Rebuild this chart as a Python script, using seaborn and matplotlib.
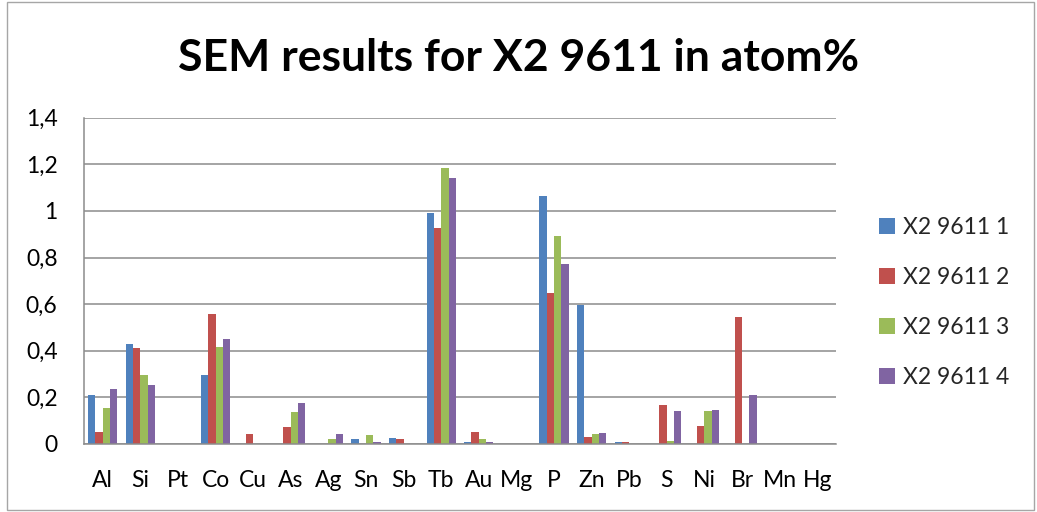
import matplotlib
matplotlib.use("Agg")
import matplotlib.pyplot as plt
from matplotlib.patches import Rectangle
import seaborn as sns
import pandas as pd

elements = ["Al", "Si", "Pt", "Co", "Cu", "As", "Ag", "Sn", "Sb", "Tb",
            "Au", "Mg", "P", "Zn", "Pb", "S", "Ni", "Br", "Mn", "Hg"]
series_names = ["X2 9611 1", "X2 9611 2", "X2 9611 3", "X2 9611 4"]
sample1 = [0.209, 0.428, 0, 0.296, 0, 0, 0, 0.023, 0.027, 0.991,
           0.009, 0, 1.063, 0.598, 0.009, 0, 0, 0, 0, 0]
sample2 = [0.053, 0.413, 0, 0.558, 0.043, 0.073, 0, 0, 0.023, 0.928,
           0.051, 0, 0.649, 0.031, 0.009, 0.167, 0.077, 0.544, 0, 0]
sample3 = [0.153, 0.296, 0, 0.416, 0, 0.137, 0.023, 0.037, 0, 1.183,
           0.023, 0, 0.893, 0.043, 0, 0.011, 0.143, 0, 0, 0]
sample4 = [0.237, 0.252, 0, 0.452, 0, 0.177, 0.043, 0.009, 0, 1.140,
           0.009, 0, 0.773, 0.047, 0, 0.143, 0.147, 0.212, 0, 0]
y_ticks = [0, 0.2, 0.4, 0.6, 0.8, 1.0, 1.2, 1.4]
y_tick_labels = ["0", "0,2", "0,4", "0,6", "0,8", "1", "1,2", "1,4"]

colors = ["#4F81BD", "#C0504D", "#9BBB59", "#8064A2"]

rows = []
for name, vals in zip(series_names, [sample1, sample2, sample3, sample4]):
    for el, v in zip(elements, vals):
        rows.append({"Element": el, "Sample": name, "atom%": v})
df = pd.DataFrame(rows)

sns.set_style("white")
plt.rcParams["font.family"] = ["Lato", "DejaVu Sans"]

fig = plt.figure(figsize=(10.37, 5.12), dpi=100)
ax = fig.add_axes([84 / 1037, 68 / 512, 752 / 1037, 326.3 / 512])

sns.barplot(data=df, x="Element", y="atom%", hue="Sample", order=elements,
            hue_order=series_names, palette=colors, width=0.78,
            saturation=1, ax=ax, linewidth=0)

ax.set_ylim(0, 1.4)
ax.set_xlim(-0.5, len(elements) - 0.5)
ax.set_yticks(y_ticks)
ax.set_yticklabels(y_tick_labels)
ax.set_xlabel("")
ax.set_ylabel("")
ax.yaxis.grid(True, color="#8C8C8C", linewidth=1.1)
ax.set_axisbelow(True)
for side in ["top", "right"]:
    ax.spines[side].set_visible(False)
for side in ["left", "bottom"]:
    ax.spines[side].set_color("#8C8C8C")
    ax.spines[side].set_linewidth(1.1)
ax.tick_params(axis="both", length=0, labelsize=16.5, colors="black")
ax.tick_params(axis="x", pad=19)
ax.tick_params(axis="y", pad=19)

leg = ax.legend(loc="upper left", bbox_to_anchor=(858 / 1037, 1 - 196 / 512),
                bbox_transform=fig.transFigure, frameon=False, fontsize=16.5,
                handlelength=0.7, handleheight=0.7, handletextpad=0.35,
                labelspacing=1.27)

fig.text(0.5, 1 - 58 / 512, "SEM results for X2 9611 in atom%",
         ha="center", va="center", fontsize=32, fontweight="bold",
         color="black")

fig.patches.append(Rectangle((7 / 1037, 2 / 512), 1027 / 1037, 508 / 512,
                             transform=fig.transFigure, fill=False,
                             edgecolor="#A6A6A6", linewidth=1.0))

fig.savefig("out.png", dpi=100)
